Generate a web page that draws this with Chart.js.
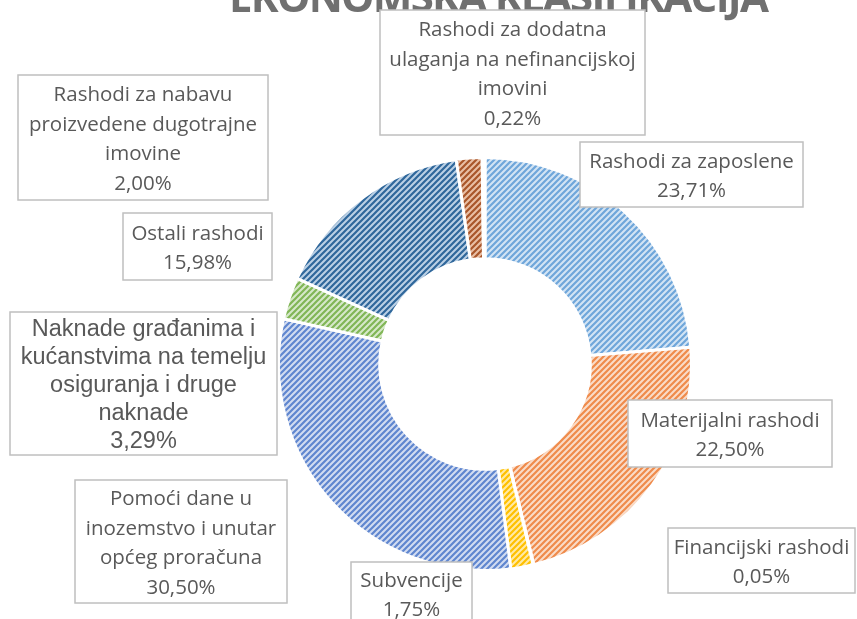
<!DOCTYPE html>
<html>
<head>
<meta charset="utf-8">
<script src="https://cdn.jsdelivr.net/npm/chart.js@4.4.0/dist/chart.umd.min.js"></script>
<style>
  html, body { margin: 0; padding: 0; background: #fff; }
  #wrap { width: 857px; height: 619px; overflow: hidden; }
</style>
</head>
<body>
<div id="wrap"><canvas id="chart" width="857" height="619"></canvas></div>
<script>
const chartTitle = 'EKONOMSKA KLASIFIKACIJA'

const categories = [
  'Rashodi za zaposlene',
  'Materijalni rashodi',
  'Financijski rashodi',
  'Subvencije',
  'Pomoći dane u inozemstvo i unutar općeg proračuna',
  'Naknade građanima i kućanstvima na temelju osiguranja i druge naknade',
  'Ostali rashodi',
  'Rashodi za nabavu proizvedene dugotrajne imovine',
  'Rashodi za dodatna ulaganja na nefinancijskoj imovini',
]

// percentages of total
const values = [23.71, 22.50, 0.05, 1.75, 30.50, 3.29, 15.98, 2.00, 0.22]

// how each category name wraps inside its label box
const labelLines = [
  ['Rashodi za zaposlene'],
  ['Materijalni rashodi'],
  ['Financijski rashodi'],
  ['Subvencije'],
  ['Pomoći dane u', 'inozemstvo i unutar', 'općeg proračuna'],
  ['Naknade građanima i', 'kućanstvima na temelju', 'osiguranja i druge', 'naknade'],
  ['Ostali rashodi'],
  ['Rashodi za nabavu', 'proizvedene dugotrajne', 'imovine'],
  ['Rashodi za dodatna', 'ulaganja na nefinancijskoj', 'imovini'],
]

// stripe colour and pale background of each slice
const stripeColors = ['#6FA6DA', '#EF8B4B', '#A5A5A5', '#FFC000', '#5F86CF', '#80B656', '#2F679B', '#A9562A', '#636363']
const tintColors   = ['#D3E4F4', '#FADCC8', '#E4E4E4', '#FFEAA6', '#D2DCF1', '#D6E8CA', '#BBD0E5', '#E9BFA5', '#D0D0D0']

// label box layout: x, y, width, height
const labelBoxes = [
  [580, 142, 223, 65],
  [628, 400, 204, 67],
  [668, 528, 187, 65],
  [351, 562, 121, 63],
  [75, 480, 212, 123],
  [10, 312, 267, 143],
  [123, 213, 149, 67],
  [18, 75, 250, 125],
  [380, 10, 265, 125],
]

function stripes(bg, fg) {
  const size = 6
  const c = document.createElement('canvas')
  c.width = size
  c.height = size
  const g = c.getContext('2d')
  g.fillStyle = bg
  g.fillRect(0, 0, size, size)
  g.strokeStyle = fg
  g.lineWidth = 2.2
  g.beginPath()
  g.moveTo(-1, size + 1); g.lineTo(size + 1, -1)
  g.moveTo(-1, 1); g.lineTo(1, -1)
  g.moveTo(size - 1, size + 1); g.lineTo(size + 1, size - 1)
  g.stroke()
  return g.createPattern(c, 'repeat')
}

function pct(v) {
  return v.toFixed(2).replace('.', ',') + '%'
}

const boxLabels = {
  id: 'boxLabels',
  afterDraw(chart) {
    const ctx = chart.ctx
    ctx.save()

    // title, mostly cut off at the top edge
    ctx.fillStyle = '#707070'
    ctx.font = 'bold 42px "Open Sans"'
    ctx.textAlign = 'center'
    ctx.textBaseline = 'alphabetic'
    const plain = ctx.measureText(chartTitle).width
    const gap = (540 - plain) / (chartTitle.length - 1)
    ctx.letterSpacing = gap + 'px'
    ctx.fillText(chartTitle, 499 + gap / 2, 12)
    ctx.letterSpacing = '0px'

    labelBoxes.forEach((b, i) => {
      const [x, y, w, h] = b
      ctx.fillStyle = '#fff'
      ctx.fillRect(x, y, w, h)
      ctx.strokeStyle = '#BFBFBF'
      ctx.lineWidth = 1.5
      ctx.strokeRect(x, y, w, h)

      const lines = labelLines[i].concat([pct(values[i])])
      const big = i === 5
      const lh = big ? 28 : 29.5
      ctx.font = big ? '23.5px "Liberation Sans"' : '20.5px "Open Sans"'
      ctx.fillStyle = '#595959'
      ctx.textAlign = 'center'
      ctx.textBaseline = 'middle'
      const cx = x + w / 2
      const top = y + h / 2 - (lines.length - 1) * lh / 2 + 2
      lines.forEach((t, k) => ctx.fillText(t, cx, top + k * lh))
    })
    ctx.restore()
  }
}

const ctx = document.getElementById('chart').getContext('2d')
const chart = new Chart(ctx, {
  type: 'doughnut',
  data: {
    labels: categories,
    datasets: [{
      data: values,
      backgroundColor: stripeColors.map((c, i) => stripes(tintColors[i], c)),
      borderColor: '#ffffff',
      borderWidth: 3,
    }]
  },
  options: {
    responsive: false,
    animation: false,
    cutout: '51%',
    layout: { padding: { left: 277, right: 164, top: 156, bottom: 47 } },
    plugins: {
      legend: { display: false },
      tooltip: { enabled: false },
    }
  },
  plugins: [boxLabels]
})
</script>
</body>
</html>
